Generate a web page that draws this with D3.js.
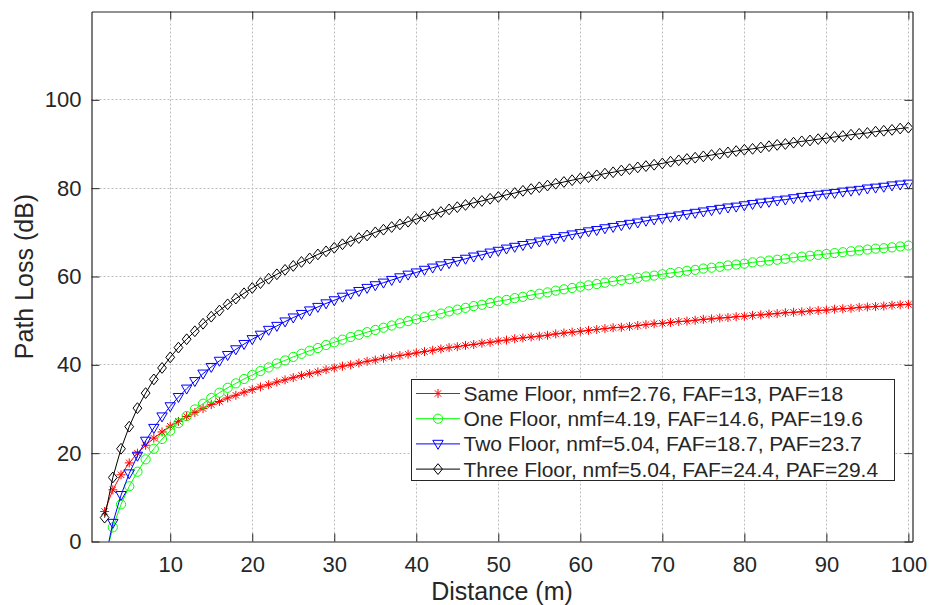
<!DOCTYPE html>
<html>
<head>
<meta charset="utf-8">
<script src="https://cdn.jsdelivr.net/npm/d3@7"></script>
<style>
  body { margin: 0; background: #fff; }
  text { font-family: "Liberation Sans", Arial, sans-serif; fill: #262626; }
</style>
</head>
<body>
<div id="chart"></div>
<script>
// distance (m)
var distance = [2,3,4,5,6,7,8,9,10,11,12,13,14,15,16,17,18,19,20,21,22,23,24,25,26,27,28,29,30,
  31,32,33,34,35,36,37,38,39,40,41,42,43,44,45,46,47,48,49,50,51,52,53,54,55,56,57,58,59,60,
  61,62,63,64,65,66,67,68,69,70,71,72,73,74,75,76,77,78,79,80,81,82,83,84,85,86,87,88,89,90,
  91,92,93,94,95,96,97,98,99,100];

// path loss (dB)
var sameFloor = [6.8,11.7,15.1,17.8,20.0,21.8,23.4,24.8,26.1,27.2,28.3,29.2,30.1,31.0,31.7,32.5,33.1,33.8,34.4,
  35.0,35.5,36.1,36.6,37.1,37.6,38.0,38.4,38.9,39.3,39.7,40.0,40.4,40.8,41.1,41.5,41.8,42.1,42.4,42.7,
  43.0,43.3,43.6,43.9,44.1,44.4,44.6,44.9,45.1,45.4,45.6,45.9,46.1,46.3,46.5,46.7,47.0,47.2,47.4,47.6,
  47.8,48.0,48.2,48.4,48.5,48.7,48.9,49.1,49.3,49.4,49.6,49.8,49.9,50.1,50.3,50.4,50.6,50.7,50.9,51.0,
  51.2,51.3,51.5,51.6,51.8,51.9,52.0,52.2,52.3,52.4,52.6,52.7,52.8,53.0,53.1,53.2,53.3,53.5,53.6,53.7];
var oneFloor = [-4.2,3.2,8.4,12.5,15.8,18.6,21.0,23.2,25.1,26.8,28.4,29.9,31.2,32.5,33.7,34.8,35.8,36.8,37.7,
  38.6,39.4,40.3,41.0,41.8,42.5,43.2,43.8,44.5,45.1,45.7,46.3,46.8,47.4,47.9,48.4,48.9,49.4,49.9,50.3,
  50.8,51.2,51.6,52.1,52.5,52.9,53.3,53.6,54.0,54.4,54.7,55.1,55.4,55.8,56.1,56.4,56.8,57.1,57.4,57.7,
  58.0,58.3,58.6,58.9,59.2,59.4,59.7,60.0,60.2,60.5,60.8,61.0,61.3,61.5,61.8,62.0,62.2,62.5,62.7,62.9,
  63.2,63.4,63.6,63.8,64.0,64.3,64.5,64.7,64.9,65.1,65.3,65.5,65.7,65.9,66.1,66.3,66.4,66.6,66.8,67.0];
var twoFloor = [-4.6,4.2,10.5,15.4,19.4,22.8,25.7,28.3,30.6,32.7,34.6,36.3,38.0,39.5,40.9,42.2,43.5,44.7,45.8,
  46.8,47.9,48.8,49.8,50.7,51.5,52.3,53.1,53.9,54.6,55.4,56.1,56.7,57.4,58.0,58.6,59.2,59.8,60.4,60.9,
  61.5,62.0,62.5,63.0,63.5,64.0,64.5,64.9,65.4,65.8,66.3,66.7,67.1,67.5,67.9,68.3,68.7,69.1,69.5,69.8,
  70.2,70.5,70.9,71.2,71.6,71.9,72.2,72.6,72.9,73.2,73.5,73.8,74.1,74.4,74.7,75.0,75.3,75.6,75.8,76.1,
  76.4,76.7,76.9,77.2,77.4,77.7,78.0,78.2,78.5,78.7,78.9,79.2,79.4,79.6,79.9,80.1,80.3,80.6,80.8,81.0];
var threeFloor = [5.4,14.5,21.0,26.0,30.2,33.6,36.7,39.3,41.7,43.9,45.8,47.6,49.3,50.9,52.3,53.7,55.0,56.2,57.4,
  58.5,59.5,60.5,61.5,62.4,63.3,64.1,65.0,65.7,66.5,67.3,68.0,68.7,69.3,70.0,70.6,71.2,71.8,72.4,73.0,
  73.6,74.1,74.6,75.2,75.7,76.2,76.7,77.1,77.6,78.0,78.5,78.9,79.4,79.8,80.2,80.6,81.0,81.4,81.8,82.2,
  82.5,82.9,83.3,83.6,84.0,84.3,84.7,85.0,85.3,85.6,86.0,86.3,86.6,86.9,87.2,87.5,87.8,88.1,88.4,88.7,
  88.9,89.2,89.5,89.8,90.0,90.3,90.6,90.8,91.1,91.3,91.6,91.8,92.1,92.3,92.5,92.8,93.0,93.2,93.5,93.7];

var legendLabels = [
  "Same Floor, nmf=2.76, FAF=13, PAF=18",
  "One Floor, nmf=4.19, FAF=14.6, PAF=19.6",
  "Two Floor, nmf=5.04, FAF=18.7, PAF=23.7",
  "Three Floor, nmf=5.04, FAF=24.4, PAF=29.4"
];
var xTicks = [10,20,30,40,50,60,70,80,90,100];
var yTicks = [0,20,40,60,80,100];

var series = [
  {values: sameFloor,  color: "#ff0000", marker: "star"},
  {values: oneFloor,   color: "#00ff00", marker: "circle"},
  {values: twoFloor,   color: "#0000ff", marker: "tri"},
  {values: threeFloor, color: "#000000", marker: "diamond"}
];

var W = 929, H = 605;
var pLeft = 91.5, pRight = 912.5, pTop = 11.5, pBottom = 541.5;

var svg = d3.select("#chart").append("svg")
  .attr("width", W).attr("height", H);

var x = d3.scaleLinear().domain([0.4, 100.5]).range([pLeft, pRight]);
var y = d3.scaleLinear().domain([0, 120]).range([pBottom, pTop]);

// grid
var grid = svg.append("g")
  .attr("stroke", "#bdbdbd").attr("stroke-width", 1).attr("stroke-dasharray", "2,2");
grid.selectAll(".gx").data(xTicks).enter().append("line")
  .attr("x1", function(d) { return Math.round(x(d)) + 0.5; })
  .attr("x2", function(d) { return Math.round(x(d)) + 0.5; })
  .attr("y1", pTop).attr("y2", pBottom);
grid.selectAll(".gy").data(yTicks.slice(1)).enter().append("line")
  .attr("y1", function(d) { return Math.round(y(d) - 0.5) + 0.5; })
  .attr("y2", function(d) { return Math.round(y(d) - 0.5) + 0.5; })
  .attr("x1", pLeft).attr("x2", pRight);

svg.append("clipPath").attr("id", "clip")
  .append("rect").attr("x", pLeft).attr("y", pTop)
  .attr("width", pRight - pLeft).attr("height", pBottom - pTop);

function markerPath(type) {
  if (type == "star") {
    var r = 4.5, s = 3.2;
    return "M" + (-r) + ",0L" + r + ",0M0," + (-r) + "L0," + r +
      "M" + (-s) + "," + (-s) + "L" + s + "," + s + "M" + (-s) + "," + s + "L" + s + "," + (-s);
  }
  if (type == "circle") {
    var c = 4.6;
    return "M" + c + ",0A" + c + "," + c + " 0 1,1 " + (-c) + ",0A" + c + "," + c + " 0 1,1 " + c + ",0Z";
  }
  if (type == "tri") {
    return "M-5.2,-3.6L5.2,-3.6L0,5.4Z";
  }
  return "M0,-5.4L4.4,0L0,5.4L-4.4,0Z";
}

var line = d3.line()
  .x(function(d) { return x(d[0]); })
  .y(function(d) { return y(d[1]); });

var plot = svg.append("g").attr("clip-path", "url(#clip)");
series.forEach(function(s) {
  var pts = distance.map(function(d, i) { return [d, s.values[i]]; });
  plot.append("path")
    .datum(pts)
    .attr("fill", "none")
    .attr("stroke", s.color)
    .attr("stroke-width", 1)
    .attr("d", line);
  plot.append("g").selectAll("path")
    .data(pts)
    .enter().append("path")
    .attr("transform", function(d) { return "translate(" + x(d[0]) + "," + y(d[1]) + ")"; })
    .attr("d", markerPath(s.marker))
    .attr("fill", "none")
    .attr("stroke", s.color)
    .attr("stroke-width", 1);
});

// axes
var axisColor = "#262626";
var gx = svg.append("g").attr("transform", "translate(0," + pBottom + ")")
  .call(d3.axisBottom(x).tickValues(xTicks).tickSizeInner(-8).tickSizeOuter(0).tickPadding(15));
var gy = svg.append("g").attr("transform", "translate(" + pLeft + ",0)")
  .call(d3.axisLeft(y).tickValues(yTicks).tickSizeInner(-8).tickSizeOuter(0).tickPadding(10));
var gt = svg.append("g").attr("transform", "translate(0," + pTop + ")")
  .call(d3.axisTop(x).tickValues(xTicks).tickSizeInner(-8).tickSizeOuter(0).tickFormat(""));
var gr = svg.append("g").attr("transform", "translate(" + pRight + ",0)")
  .call(d3.axisRight(y).tickValues(yTicks).tickSizeInner(-8).tickSizeOuter(0).tickFormat(""));

[gx, gy, gt, gr].forEach(function(g) {
  g.select(".domain").attr("stroke", axisColor).attr("stroke-width", 1.2);
  g.selectAll(".tick line").attr("stroke", axisColor);
  g.selectAll("text").attr("font-size", 22).attr("fill", axisColor)
    .style("font-family", '"Liberation Sans", Arial, sans-serif');
});

// axis labels
svg.append("text")
  .attr("x", (pLeft + pRight) / 2).attr("y", 600)
  .attr("text-anchor", "middle").attr("font-size", 25)
  .text("Distance (m)");
svg.append("text")
  .attr("transform", "translate(33," + ((pTop + pBottom) / 2) + ") rotate(-90)")
  .attr("text-anchor", "middle").attr("font-size", 25)
  .text("Path Loss (dB)");

// legend
var lg = svg.append("g");
lg.append("rect")
  .attr("x", 411.5).attr("y", 379.5).attr("width", 483).attr("height", 101)
  .attr("fill", "#fff").attr("stroke", axisColor).attr("stroke-width", 1);
series.forEach(function(s, i) {
  var cy = 393.5 + i * 25.2;
  lg.append("line").attr("x1", 416).attr("x2", 460).attr("y1", cy).attr("y2", cy)
    .attr("stroke", s.color).attr("stroke-width", 1);
  lg.append("path").attr("transform", "translate(438," + cy + ")")
    .attr("d", markerPath(s.marker)).attr("fill", "none").attr("stroke", s.color);
  lg.append("text").attr("x", 463.5).attr("y", cy).attr("dy", "0.36em")
    .attr("font-size", 21).attr("fill", "#000")
    .text(legendLabels[i]);
});
</script>
</body>
</html>
